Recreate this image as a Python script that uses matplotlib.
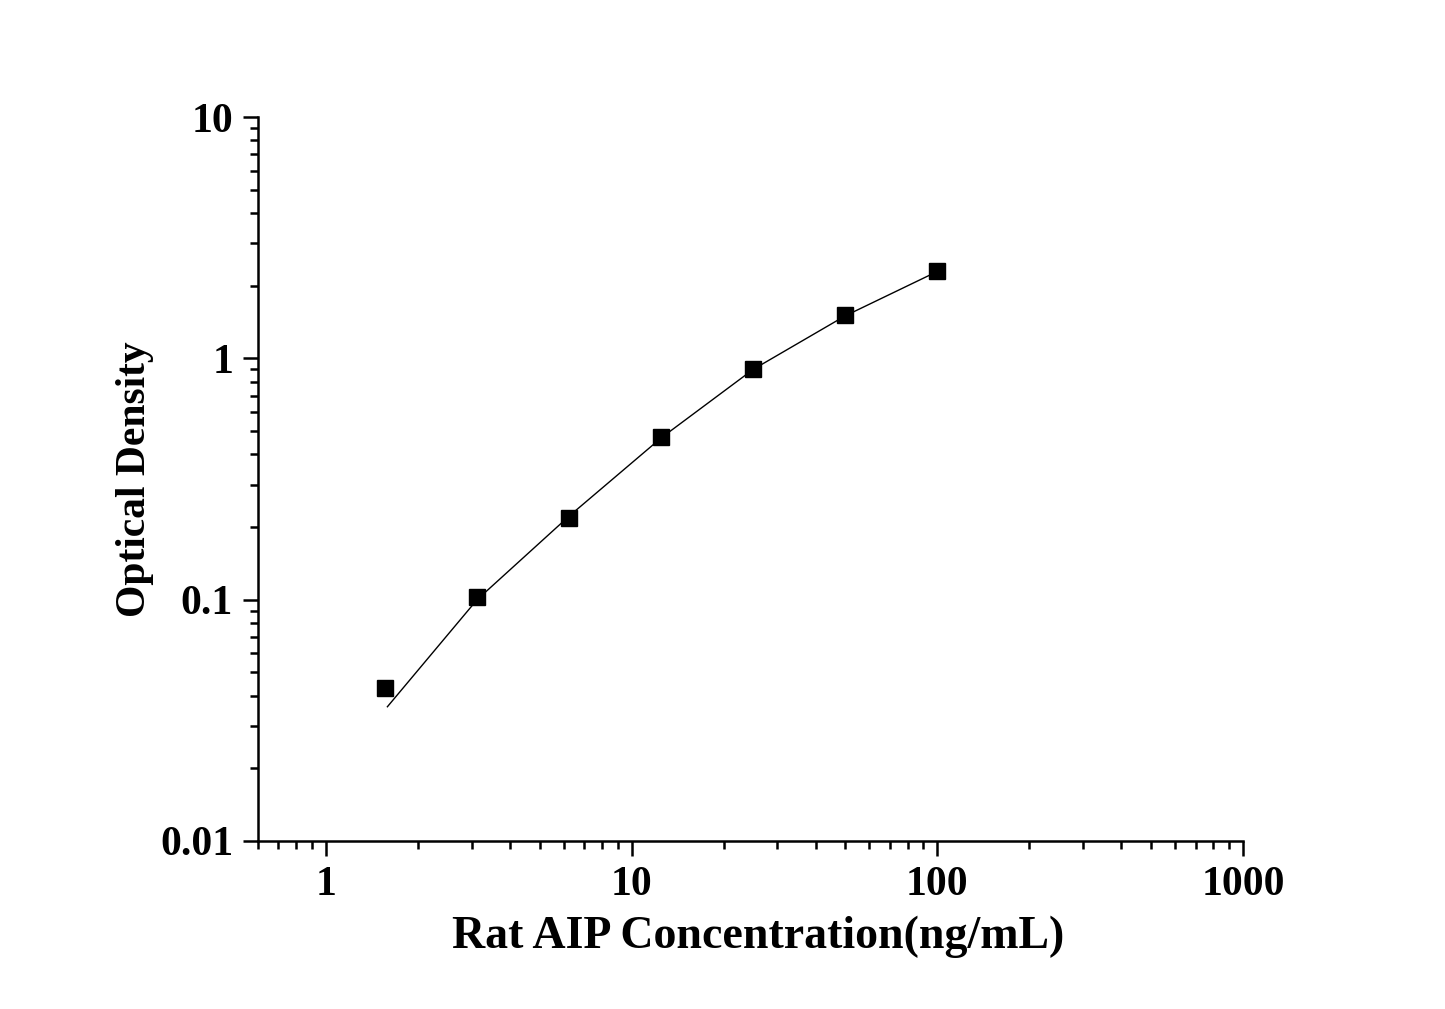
import numpy as np
import matplotlib
matplotlib.use("Agg")
import matplotlib.pyplot as plt
from matplotlib.ticker import LogLocator, FixedLocator, FixedFormatter, NullFormatter

# standard points (concentration ng/mL, OD)
conc = [1.5625, 3.125, 6.25, 12.5, 25, 50, 100]
od = [0.043, 0.103, 0.217, 0.470, 0.90, 1.51, 2.30]

# fitted curve
fit_x = [1.59, 3.125, 6.25, 12.5, 25, 50, 100]
fit_y = [0.036, 0.100, 0.222, 0.468, 0.90, 1.50, 2.29]

x_ticks = [1, 10, 100, 1000]
x_tick_labels = ["1", "10", "100", "1000"]
y_ticks = [0.01, 0.1, 1, 10]
y_tick_labels = ["0.01", "0.1", "1", "10"]

plt.rcParams['font.family'] = ['Liberation Serif', 'DejaVu Serif']
plt.rcParams['font.weight'] = 'bold'

fig = plt.figure(figsize=(14.45, 10.09), dpi=100)
ax = fig.add_axes([258 / 1445, 1 - 841 / 1009, (1243 - 258) / 1445, (841 - 117) / 1009])

ax.plot(fit_x, fit_y, color='black', linewidth=1.0, zorder=2)
ax.plot(conc, od, linestyle='none', marker='s', markersize=11.5, color='black', zorder=3)

ax.set_xscale('log')
ax.set_yscale('log')
ax.set_xlim(0.6, 1000)
ax.set_ylim(0.01, 10)

ax.xaxis.set_major_locator(FixedLocator(x_ticks))
ax.xaxis.set_major_formatter(FixedFormatter(x_tick_labels))
ax.yaxis.set_major_locator(FixedLocator(y_ticks))
ax.yaxis.set_major_formatter(FixedFormatter(y_tick_labels))
ax.xaxis.set_minor_locator(LogLocator(base=10, subs=np.arange(2, 10), numticks=20))
ax.yaxis.set_minor_locator(LogLocator(base=10, subs=np.arange(2, 10), numticks=20))
ax.xaxis.set_minor_formatter(NullFormatter())
ax.yaxis.set_minor_formatter(NullFormatter())

for side in ['top', 'right']:
    ax.spines[side].set_visible(False)
for side in ['left', 'bottom']:
    ax.spines[side].set_linewidth(1.8)

ax.tick_params(which='major', direction='out', length=11, width=1.8, labelsize=30, pad=7)
ax.tick_params(which='minor', direction='out', length=5.5, width=1.8)

ax.set_xlabel('Rat AIP Concentration(ng/mL)', fontsize=33, fontweight='bold', labelpad=8)
ax.set_ylabel('Optical Density', fontsize=30, fontweight='bold', labelpad=4)
ax.xaxis.label.set_x(0.508)

fig.savefig('out.png', dpi=100)
